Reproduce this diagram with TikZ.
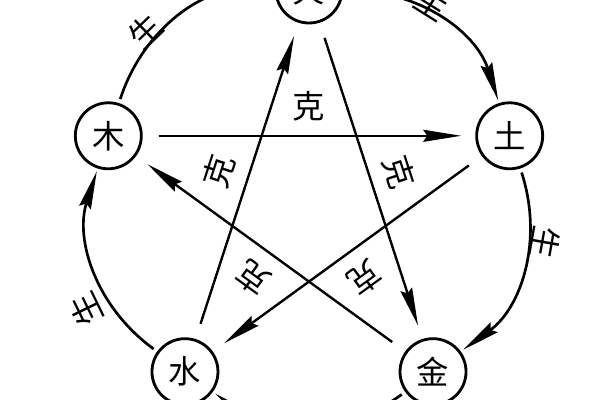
\documentclass[tikz,border=0pt]{standalone}
\usepackage{fontspec}
\newfontfamily\cjk{Noto Sans CJK SC}
\usetikzlibrary{arrows.meta}
\tikzset{
element/.style={circle,draw,line width=2pt,minimum size=1.65cm,inner sep=0pt,font=\cjk\fontsize{23}{26}\selectfont},
tip/.style={-{Stealth[length=0.95cm,width=0.3cm,inset=0.1cm]}},
sheng/.style={tip,line width=1.9pt,shorten <=3pt,shorten >=2pt},
ke/.style={tip,line width=1.7pt,shorten <=0.4cm,shorten >=0.35cm},
word/.style={font=\cjk\fontsize{23}{26}\selectfont,inner sep=0pt},
}

\begin{document}
\begin{tikzpicture}[x=0.025cm,y=0.025cm]
            \useasboundingbox (-309,-199) rectangle (291,201);
            \clip (-309,-199) rectangle (291,201);
            \node [element] (fire) at (90:211) {火};
            \node [element] (earth) at (18:211) {土};
            \node [element] (metal) at (-54:211) {金};
            \node [element] (water) at (-126:211) {水};
            \node [element] (wood) at (162:211) {木};
            % sheng: round the outside
            \draw [sheng] (wood) to[bend left=36] (fire);
            \draw [sheng] (fire) to[bend left=36] (earth);
            \draw [sheng] (earth) to[bend left=36] (metal);
            \draw [sheng] (metal) to[bend left=36] (water);
            \draw [sheng] (water) to[bend left=36] (wood);
            \node [word,rotate=44] (s1) at (134:236) {生};
            \node [word,rotate=-32] (s2) at (58:233) {生};
            \node [word,rotate=-100] (s3) at (-10:240) {生};
            \node [word,rotate=116] (s4) at (206:248) {生};
            % ke: the star
            \draw [ke] (wood) -- (earth);
            \draw [ke] (earth) -- (water);
            \draw [ke] (water) -- (fire);
            \draw [ke] (fire) -- (metal);
            \draw [ke] (metal) -- (wood);
            \foreach \a in {90,162,18,234,306}
                \node [word,rotate=\a-90] (k\a) at (\a:95) {克};
        \end{tikzpicture}
\end{document}
